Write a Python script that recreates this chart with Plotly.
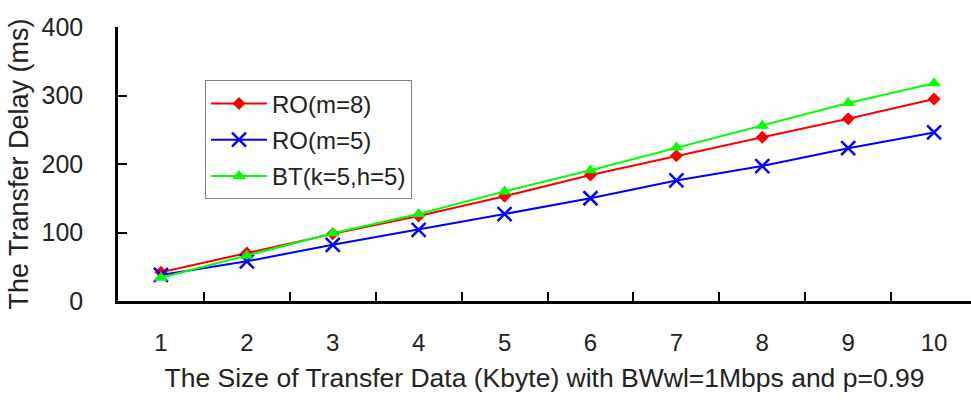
import plotly.graph_objects as go

# Transfer data sizes (Kbyte) and measured transfer delays (ms)
sizes = ["1", "2", "3", "4", "5", "6", "7", "8", "9", "10"]
ro_m8 = [42, 70, 98, 124, 153, 184, 212, 239, 266, 295]
ro_m5 = [38, 58, 82, 104, 127, 150, 176, 197, 223, 246]
bt_k5_h5 = [34, 66, 99, 127, 160, 191, 224, 256, 289, 318]

FONT = "Liberation Sans, Arial, sans-serif"

fig = go.Figure()
fig.add_trace(go.Scatter(
    x=sizes, y=ro_m8, name="RO(m=8)", mode="lines+markers", legendgroup="a",
    line=dict(color="#ff0000", width=2),
    marker=dict(symbol="diamond", size=10, color="#ff0000"),
))
fig.add_trace(go.Scatter(
    x=sizes, y=ro_m5, name="RO(m=5)", mode="lines+markers", legendgroup="b",
    line=dict(color="#0000ff", width=2),
    marker=dict(symbol="x-thin", size=14, color="#0000ff",
                line=dict(color="#0000ff", width=2.5)),
))
fig.add_trace(go.Scatter(
    x=sizes, y=bt_k5_h5, name="BT(k=5,h=5)", mode="lines+markers", legendgroup="c",
    line=dict(color="#00ff00", width=2),
    marker=dict(symbol="triangle-up", size=12, color="#00ff00"),
))

fig.update_layout(
    width=971, height=405,
    margin=dict(l=118, r=0, t=27, b=104),
    paper_bgcolor="white", plot_bgcolor="white",
    font=dict(family=FONT, size=22, color="#222222"),
    showlegend=True,
    legend=dict(
        x=0.102, y=0.805, xanchor="left", yanchor="top",
        bgcolor="white", bordercolor="#808080", borderwidth=1,
        font=dict(family=FONT, size=24, color="#222222"),
        itemwidth=56, tracegroupgap=2,
    ),
    xaxis=dict(
        type="category",
        range=[-0.5, 9.43],
        showline=True, linecolor="black", linewidth=2.5,
        ticks="inside", ticklen=9, tickwidth=2, tickcolor="black",
        tickson="boundaries",
        showgrid=False, zeroline=False,
        ticklabelstandoff=18,
        tickfont=dict(size=24),
        title=dict(
            text="The Size of Transfer Data (Kbyte) with BWwl=1Mbps and p=0.99",
            font=dict(size=26.5), standoff=14,
        ),
    ),
    yaxis=dict(
        range=[0, 400],
        tickvals=[0, 100, 200, 300, 400],
        showline=True, linecolor="black", linewidth=2.5,
        ticks="inside", ticklen=9, tickwidth=2, tickcolor="black",
        showgrid=False, zeroline=False,
        ticklabelstandoff=27,
        tickfont=dict(size=25),
        title=dict(text="The Transfer Delay (ms)", font=dict(size=27), standoff=6),
    ),
)

fig.write_html("out.html")
